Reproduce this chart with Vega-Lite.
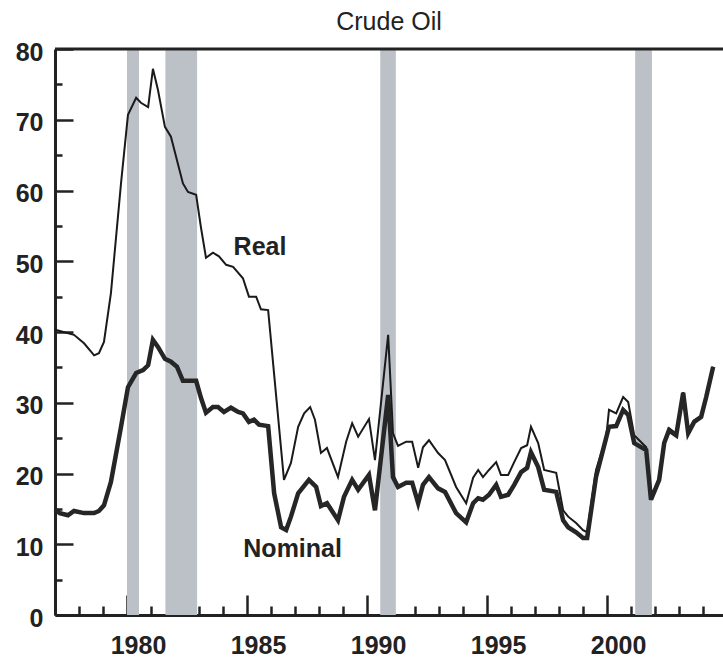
{
  "$schema": "https://vega.github.io/schema/vega-lite/v6.json",
  "width": 668,
  "height": 566,
  "autosize": {"type": "none"},
  "padding": {"left": 55, "top": 49, "right": 0, "bottom": 43},
  "background": "white",
  "title": {"text": "Crude Oil", "font": "Liberation Sans", "fontSize": 25, "fontWeight": "normal", "color": "#222", "frame": "group", "baseline": "alphabetic", "offset": -15, "anchor": "middle"},
  "config": {"view": {"stroke": null}},
  "datasets": {
    "recessions": [
      {"start": 1980.0, "end": 1980.5},
      {"start": 1981.6, "end": 1982.92},
      {"start": 1990.55, "end": 1991.2},
      {"start": 2001.17, "end": 2001.87}
    ],
    "prices": [
      {"series": "Real", "t": 1977.0, "v": 40.3},
      {"series": "Real", "t": 1977.13, "v": 40.2},
      {"series": "Real", "t": 1977.79, "v": 39.6},
      {"series": "Real", "t": 1978.21, "v": 38.4},
      {"series": "Real", "t": 1978.63, "v": 36.7},
      {"series": "Real", "t": 1978.83, "v": 37.0},
      {"series": "Real", "t": 1979.04, "v": 38.6},
      {"series": "Real", "t": 1979.33, "v": 45.5},
      {"series": "Real", "t": 1979.75, "v": 61.0},
      {"series": "Real", "t": 1980.04, "v": 70.7},
      {"series": "Real", "t": 1980.38, "v": 73.1},
      {"series": "Real", "t": 1980.58, "v": 72.4},
      {"series": "Real", "t": 1980.88, "v": 71.8},
      {"series": "Real", "t": 1981.08, "v": 77.2},
      {"series": "Real", "t": 1981.29, "v": 74.2},
      {"series": "Real", "t": 1981.58, "v": 69.0},
      {"series": "Real", "t": 1981.83, "v": 67.6},
      {"series": "Real", "t": 1982.33, "v": 61.0},
      {"series": "Real", "t": 1982.54, "v": 59.8},
      {"series": "Real", "t": 1982.88, "v": 59.4},
      {"series": "Real", "t": 1983.08, "v": 54.8},
      {"series": "Real", "t": 1983.29, "v": 50.5},
      {"series": "Real", "t": 1983.58, "v": 51.2},
      {"series": "Real", "t": 1983.83, "v": 50.7},
      {"series": "Real", "t": 1984.13, "v": 49.5},
      {"series": "Real", "t": 1984.42, "v": 49.2},
      {"series": "Real", "t": 1984.83, "v": 47.6},
      {"series": "Real", "t": 1985.08, "v": 45.0},
      {"series": "Real", "t": 1985.38, "v": 45.0},
      {"series": "Real", "t": 1985.58, "v": 43.2},
      {"series": "Real", "t": 1985.88, "v": 43.1},
      {"series": "Real", "t": 1986.54, "v": 19.1},
      {"series": "Real", "t": 1986.83, "v": 21.5},
      {"series": "Real", "t": 1987.13, "v": 26.6},
      {"series": "Real", "t": 1987.38, "v": 28.5},
      {"series": "Real", "t": 1987.63, "v": 29.4},
      {"series": "Real", "t": 1987.83, "v": 27.6},
      {"series": "Real", "t": 1988.08, "v": 22.9},
      {"series": "Real", "t": 1988.33, "v": 23.6},
      {"series": "Real", "t": 1988.79, "v": 19.5},
      {"series": "Real", "t": 1989.13, "v": 24.5},
      {"series": "Real", "t": 1989.38, "v": 27.1},
      {"series": "Real", "t": 1989.63, "v": 25.2},
      {"series": "Real", "t": 1990.08, "v": 27.7},
      {"series": "Real", "t": 1990.33, "v": 21.9},
      {"series": "Real", "t": 1990.88, "v": 39.6},
      {"series": "Real", "t": 1991.08, "v": 25.7},
      {"series": "Real", "t": 1991.29, "v": 23.9},
      {"series": "Real", "t": 1991.63, "v": 24.5},
      {"series": "Real", "t": 1991.88, "v": 24.5},
      {"series": "Real", "t": 1992.13, "v": 20.8},
      {"series": "Real", "t": 1992.33, "v": 23.7},
      {"series": "Real", "t": 1992.58, "v": 24.7},
      {"series": "Real", "t": 1992.96, "v": 22.9},
      {"series": "Real", "t": 1993.25, "v": 21.9},
      {"series": "Real", "t": 1993.71, "v": 18.1},
      {"series": "Real", "t": 1994.13, "v": 15.8},
      {"series": "Real", "t": 1994.42, "v": 19.4},
      {"series": "Real", "t": 1994.63, "v": 20.5},
      {"series": "Real", "t": 1994.83, "v": 19.5},
      {"series": "Real", "t": 1995.08, "v": 20.5},
      {"series": "Real", "t": 1995.38, "v": 21.6},
      {"series": "Real", "t": 1995.58, "v": 19.8},
      {"series": "Real", "t": 1995.88, "v": 19.8},
      {"series": "Real", "t": 1996.13, "v": 21.6},
      {"series": "Real", "t": 1996.42, "v": 23.6},
      {"series": "Real", "t": 1996.67, "v": 24.0},
      {"series": "Real", "t": 1996.83, "v": 26.6},
      {"series": "Real", "t": 1997.13, "v": 24.3},
      {"series": "Real", "t": 1997.38, "v": 20.5},
      {"series": "Real", "t": 1997.88, "v": 20.1},
      {"series": "Real", "t": 1998.17, "v": 14.8},
      {"series": "Real", "t": 1998.38, "v": 13.9},
      {"series": "Real", "t": 1998.71, "v": 13.0},
      {"series": "Real", "t": 1999.0, "v": 12.0},
      {"series": "Real", "t": 1999.17, "v": 11.7},
      {"series": "Real", "t": 1999.54, "v": 20.5},
      {"series": "Real", "t": 1999.96, "v": 25.0},
      {"series": "Real", "t": 2000.08, "v": 29.0},
      {"series": "Real", "t": 2000.38, "v": 28.5},
      {"series": "Real", "t": 2000.67, "v": 30.8},
      {"series": "Real", "t": 2000.88, "v": 30.1},
      {"series": "Real", "t": 2001.13, "v": 25.4},
      {"series": "Real", "t": 2001.63, "v": 23.7},
      {"series": "Real", "t": 2001.83, "v": 16.5},
      {"series": "Real", "t": 2002.17, "v": 19.3},
      {"series": "Real", "t": 2002.38, "v": 24.6},
      {"series": "Real", "t": 2002.58, "v": 26.4},
      {"series": "Real", "t": 2002.88, "v": 25.6},
      {"series": "Real", "t": 2003.17, "v": 31.5},
      {"series": "Real", "t": 2003.38, "v": 25.9},
      {"series": "Real", "t": 2003.63, "v": 27.5},
      {"series": "Real", "t": 2003.92, "v": 28.1},
      {"series": "Real", "t": 2004.13, "v": 30.9},
      {"series": "Real", "t": 2004.42, "v": 35.1},
      {"series": "Nominal", "t": 1977.0, "v": 14.9},
      {"series": "Nominal", "t": 1977.2, "v": 14.4},
      {"series": "Nominal", "t": 1977.54, "v": 14.1},
      {"series": "Nominal", "t": 1977.79, "v": 14.7},
      {"series": "Nominal", "t": 1978.21, "v": 14.4},
      {"series": "Nominal", "t": 1978.63, "v": 14.4},
      {"series": "Nominal", "t": 1978.83, "v": 14.7},
      {"series": "Nominal", "t": 1979.04, "v": 15.5},
      {"series": "Nominal", "t": 1979.33, "v": 18.8},
      {"series": "Nominal", "t": 1979.75, "v": 26.6},
      {"series": "Nominal", "t": 1980.04, "v": 32.2},
      {"series": "Nominal", "t": 1980.38, "v": 34.2},
      {"series": "Nominal", "t": 1980.67, "v": 34.6},
      {"series": "Nominal", "t": 1980.88, "v": 35.3},
      {"series": "Nominal", "t": 1981.08, "v": 38.9},
      {"series": "Nominal", "t": 1981.29, "v": 37.9},
      {"series": "Nominal", "t": 1981.58, "v": 36.2},
      {"series": "Nominal", "t": 1981.83, "v": 35.8},
      {"series": "Nominal", "t": 1982.08, "v": 35.1},
      {"series": "Nominal", "t": 1982.33, "v": 33.1},
      {"series": "Nominal", "t": 1982.54, "v": 33.1},
      {"series": "Nominal", "t": 1982.88, "v": 33.1},
      {"series": "Nominal", "t": 1983.08, "v": 30.7},
      {"series": "Nominal", "t": 1983.29, "v": 28.6},
      {"series": "Nominal", "t": 1983.58, "v": 29.4},
      {"series": "Nominal", "t": 1983.79, "v": 29.4},
      {"series": "Nominal", "t": 1984.04, "v": 28.7},
      {"series": "Nominal", "t": 1984.33, "v": 29.3},
      {"series": "Nominal", "t": 1984.63, "v": 28.7},
      {"series": "Nominal", "t": 1984.83, "v": 28.5},
      {"series": "Nominal", "t": 1985.08, "v": 27.3},
      {"series": "Nominal", "t": 1985.29, "v": 27.6},
      {"series": "Nominal", "t": 1985.5, "v": 26.9},
      {"series": "Nominal", "t": 1985.88, "v": 26.7},
      {"series": "Nominal", "t": 1986.13, "v": 17.2},
      {"series": "Nominal", "t": 1986.42, "v": 12.4},
      {"series": "Nominal", "t": 1986.63, "v": 12.0},
      {"series": "Nominal", "t": 1986.83, "v": 13.9},
      {"series": "Nominal", "t": 1987.13, "v": 17.2},
      {"series": "Nominal", "t": 1987.58, "v": 19.1},
      {"series": "Nominal", "t": 1987.88, "v": 18.1},
      {"series": "Nominal", "t": 1988.08, "v": 15.4},
      {"series": "Nominal", "t": 1988.33, "v": 15.8},
      {"series": "Nominal", "t": 1988.79, "v": 13.4},
      {"series": "Nominal", "t": 1989.04, "v": 16.7},
      {"series": "Nominal", "t": 1989.38, "v": 19.1},
      {"series": "Nominal", "t": 1989.63, "v": 17.7},
      {"series": "Nominal", "t": 1990.08, "v": 19.8},
      {"series": "Nominal", "t": 1990.33, "v": 14.8},
      {"series": "Nominal", "t": 1990.88, "v": 31.1},
      {"series": "Nominal", "t": 1991.08, "v": 19.5},
      {"series": "Nominal", "t": 1991.29, "v": 18.1},
      {"series": "Nominal", "t": 1991.63, "v": 18.7},
      {"series": "Nominal", "t": 1991.88, "v": 18.7},
      {"series": "Nominal", "t": 1992.13, "v": 15.8},
      {"series": "Nominal", "t": 1992.33, "v": 18.4},
      {"series": "Nominal", "t": 1992.58, "v": 19.5},
      {"series": "Nominal", "t": 1992.96, "v": 17.9},
      {"series": "Nominal", "t": 1993.25, "v": 17.4},
      {"series": "Nominal", "t": 1993.71, "v": 14.4},
      {"series": "Nominal", "t": 1994.13, "v": 13.1},
      {"series": "Nominal", "t": 1994.42, "v": 15.8},
      {"series": "Nominal", "t": 1994.63, "v": 16.5},
      {"series": "Nominal", "t": 1994.83, "v": 16.3},
      {"series": "Nominal", "t": 1995.08, "v": 17.0},
      {"series": "Nominal", "t": 1995.38, "v": 18.4},
      {"series": "Nominal", "t": 1995.58, "v": 16.7},
      {"series": "Nominal", "t": 1995.88, "v": 17.0},
      {"series": "Nominal", "t": 1996.13, "v": 18.4},
      {"series": "Nominal", "t": 1996.42, "v": 20.2},
      {"series": "Nominal", "t": 1996.67, "v": 20.8},
      {"series": "Nominal", "t": 1996.83, "v": 23.0},
      {"series": "Nominal", "t": 1997.13, "v": 20.9},
      {"series": "Nominal", "t": 1997.38, "v": 17.7},
      {"series": "Nominal", "t": 1997.88, "v": 17.4},
      {"series": "Nominal", "t": 1998.17, "v": 13.4},
      {"series": "Nominal", "t": 1998.38, "v": 12.4},
      {"series": "Nominal", "t": 1998.71, "v": 11.7},
      {"series": "Nominal", "t": 1999.0, "v": 10.9},
      {"series": "Nominal", "t": 1999.17, "v": 10.9},
      {"series": "Nominal", "t": 1999.54, "v": 19.5},
      {"series": "Nominal", "t": 1999.96, "v": 25.0},
      {"series": "Nominal", "t": 2000.08, "v": 26.6},
      {"series": "Nominal", "t": 2000.38, "v": 26.7},
      {"series": "Nominal", "t": 2000.67, "v": 29.0},
      {"series": "Nominal", "t": 2000.88, "v": 28.3},
      {"series": "Nominal", "t": 2001.13, "v": 24.3},
      {"series": "Nominal", "t": 2001.63, "v": 23.3},
      {"series": "Nominal", "t": 2001.83, "v": 16.3},
      {"series": "Nominal", "t": 2002.17, "v": 19.1},
      {"series": "Nominal", "t": 2002.38, "v": 24.3},
      {"series": "Nominal", "t": 2002.58, "v": 26.1},
      {"series": "Nominal", "t": 2002.88, "v": 25.4},
      {"series": "Nominal", "t": 2003.17, "v": 31.4},
      {"series": "Nominal", "t": 2003.38, "v": 25.7},
      {"series": "Nominal", "t": 2003.63, "v": 27.3},
      {"series": "Nominal", "t": 2003.92, "v": 28.0},
      {"series": "Nominal", "t": 2004.13, "v": 30.8},
      {"series": "Nominal", "t": 2004.42, "v": 35.1}
    ],
    "labels": [
      {"text": "Real", "t": 1985.54, "v": 52.0},
      {"text": "Nominal", "t": 1986.9, "v": 9.3}
    ],
    "frame": [{"top": 80}]
  },
  "layer": [
    {
      "data": {"name": "recessions"},
      "mark": {"type": "rect", "color": "#bcc1c8"},
      "encoding": {
        "x": {"field": "start", "type": "quantitative", "scale": {"domain": [1977, 2004.83], "nice": false, "zero": false},
          "axis": {
            "values": [1977, 1978, 1979, 1980, 1981, 1982, 1983, 1984, 1985, 1986, 1987, 1988, 1989, 1990, 1991, 1992, 1993, 1994, 1995, 1996, 1997, 1998, 1999, 2000, 2001, 2002, 2003, 2004],
            "tickCount": 200,
            "format": "d",
            "labelExpr": "datum.value % 5 === 0 ? datum.label : ''",
            "title": null,
            "grid": false,
            "domainColor": "#222",
            "domainWidth": 3,
            "tickColor": "#222",
            "tickWidth": 2.5,
            "tickSize": {"expr": "datum.value % 5 === 0 ? -20 : -9"},
            "labelPadding": 38,
            "labelOffset": 11,
            "labelFont": "Liberation Sans",
            "labelFontSize": 25,
            "labelFontWeight": "bold",
            "labelColor": "#222",
            "labelBaseline": "top",
            "labelFlush": false,
            "labelOverlap": false
          }
        },
        "x2": {"field": "end"}
      }
    },
    {
      "data": {"name": "prices"},
      "transform": [{"filter": "datum.series === 'Real'"}],
      "mark": {"type": "line", "color": "#1a1a1a", "strokeWidth": 2, "strokeJoin": "miter"},
      "encoding": {
        "x": {"field": "t", "type": "quantitative"},
        "y": {"field": "v", "type": "quantitative", "scale": {"domain": [0, 80], "nice": false},
          "axis": {
            "values": [0, 5, 10, 15, 20, 25, 30, 35, 40, 45, 50, 55, 60, 65, 70, 75, 80],
            "tickCount": 200,
            "format": "d",
            "labelExpr": "datum.value % 10 === 0 ? datum.label : ''",
            "title": null,
            "grid": false,
            "domainColor": "#222",
            "domainWidth": 3,
            "tickColor": "#222",
            "tickWidth": 2.5,
            "tickSize": {"expr": "datum.value % 10 === 0 ? -18 : -7"},
            "labelPadding": 30,
            "labelOffset": 3,
            "labelFont": "Liberation Sans",
            "labelFontSize": 25,
            "labelFontWeight": "bold",
            "labelColor": "#222",
            "labelFlush": false,
            "labelOverlap": false
          }
        }
      }
    },
    {
      "data": {"name": "prices"},
      "transform": [{"filter": "datum.series === 'Nominal'"}],
      "mark": {"type": "line", "color": "#262626", "strokeWidth": 4.5, "strokeJoin": "miter"},
      "encoding": {
        "x": {"field": "t", "type": "quantitative"},
        "y": {"field": "v", "type": "quantitative"}
      }
    },
    {
      "data": {"name": "frame"},
      "mark": {"type": "rule", "color": "#222", "strokeWidth": 3},
      "encoding": {"y": {"field": "top", "type": "quantitative"}}
    },
    {
      "data": {"name": "labels"},
      "mark": {"type": "text", "font": "Liberation Sans", "fontSize": 25, "fontWeight": "bold", "color": "#222", "align": "center", "baseline": "middle"},
      "encoding": {
        "x": {"field": "t", "type": "quantitative"},
        "y": {"field": "v", "type": "quantitative"},
        "text": {"field": "text"}
      }
    }
  ]
}
